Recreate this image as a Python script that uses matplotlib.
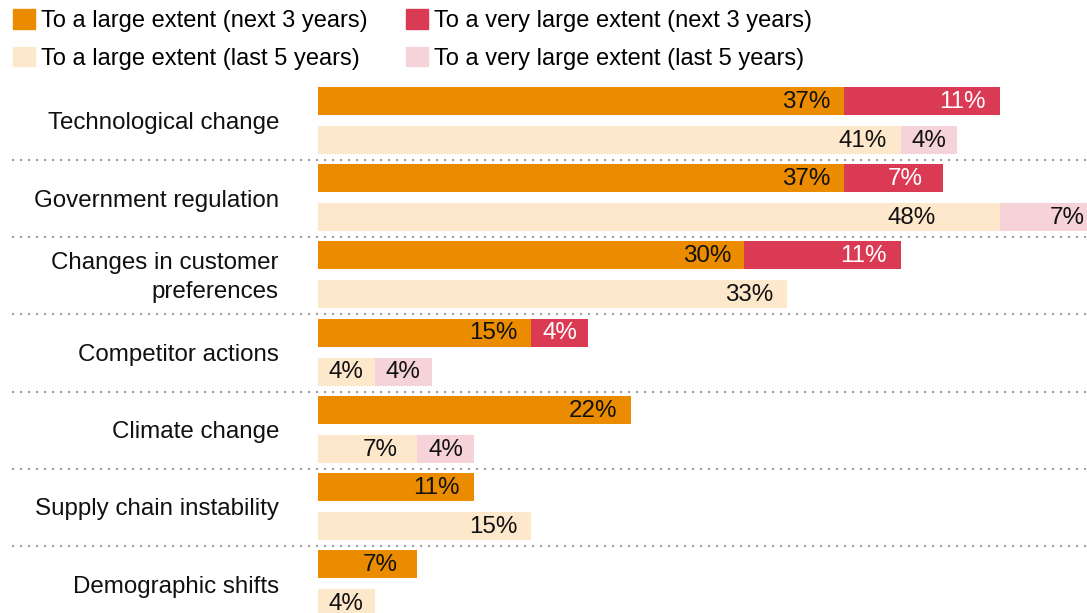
import numpy as np
import matplotlib.pyplot as plt
from matplotlib.patches import Patch
from matplotlib.transforms import blended_transform_factory

plt.rcParams['font.family'] = ['Liberation Sans', 'DejaVu Sans']

categories = ['Technological change', 'Government regulation',
              'Changes in customer\npreferences', 'Competitor actions',
              'Climate change', 'Supply chain instability', 'Demographic shifts']
large_next3 = [37, 37, 30, 15, 22, 11, 7]
very_large_next3 = [11, 7, 11, 4, 0, 0, 0]
large_last5 = [41, 48, 33, 4, 7, 15, 4]
very_large_last5 = [4, 7, 0, 4, 4, 0, 0]

ORANGE = '#EB8C00'
RED = '#DB3A55'
PEACH = '#FEE8CC'
PINK = '#F5D3D8'
FS = 17.4

fig = plt.figure(figsize=(10.87, 6.13), dpi=100)
ax = fig.add_axes([318 / 1087, 0, 769 / 1087, 533 / 613])
ax.set_xlim(0, 54.12)
ax.set_ylim(6.632, -0.272)
ax.axis('off')

y = np.arange(len(categories))
h = 0.363
off = 0.505


def label_segments(ypos, starts, widths, color, dx=None):
    # value labels sit near the right end of each segment
    for i, (s, w) in enumerate(zip(starts, widths)):
        if w <= 0:
            continue
        end = s + w
        left = max(s, end - 5.28)
        xc = (left + end) / 2
        if dx is not None:
            xc += dx.get(i, 0)
        ax.text(xc, ypos[i] + 0.01, f'{w}%', ha='center', va='center',
                fontsize=FS, color=color)


ax.barh(y, large_next3, height=h, color=ORANGE)
ax.barh(y, very_large_next3, left=large_next3, height=h, color=RED)
ax.barh(y + off, large_last5, height=h, color=PEACH)
ax.barh(y + off, very_large_last5, left=large_last5, height=h, color=PINK)

label_segments(y, [0] * 7, large_next3, '#111111')
label_segments(y, large_next3, very_large_next3, 'white')
label_segments(y + off, [0] * 7, large_last5, '#111111', dx={1: -3.6})
label_segments(y + off, large_last5, very_large_last5, '#111111', dx={1: 0.4})

# category names to the left of the bars
for i, name in enumerate(categories):
    ax.text(-2.75, i + 0.29, name, ha='right', va='center', fontsize=FS,
            color='#111111', linespacing=1.4)

# dotted separators across the whole width
trans = blended_transform_factory(fig.transFigure, ax.transData)
for i in range(len(categories) - 1):
    ax.plot([12 / 1087, 1], [i + 0.764, i + 0.764], transform=trans,
            color='#A0A0A0', lw=1.5, linestyle=(0, (1, 2.84)),
            dash_capstyle='butt', clip_on=False)

handles = [Patch(color=ORANGE, label='To a large extent (next 3 years)'),
           Patch(color=PEACH, label='To a large extent (last 5 years)'),
           Patch(color=RED, label='To a very large extent (next 3 years)'),
           Patch(color=PINK, label='To a very large extent (last 5 years)')]
fig.legend(handles=handles, ncol=2, loc='upper left',
           bbox_to_anchor=(13 / 1087, 1 - 9 / 613), frameon=False,
           fontsize=17, borderpad=0, borderaxespad=0,
           handlelength=0.93, handleheight=0.9, handletextpad=0.25,
           columnspacing=1.65, labelspacing=0.62)

fig.savefig('out.png', dpi=100)
